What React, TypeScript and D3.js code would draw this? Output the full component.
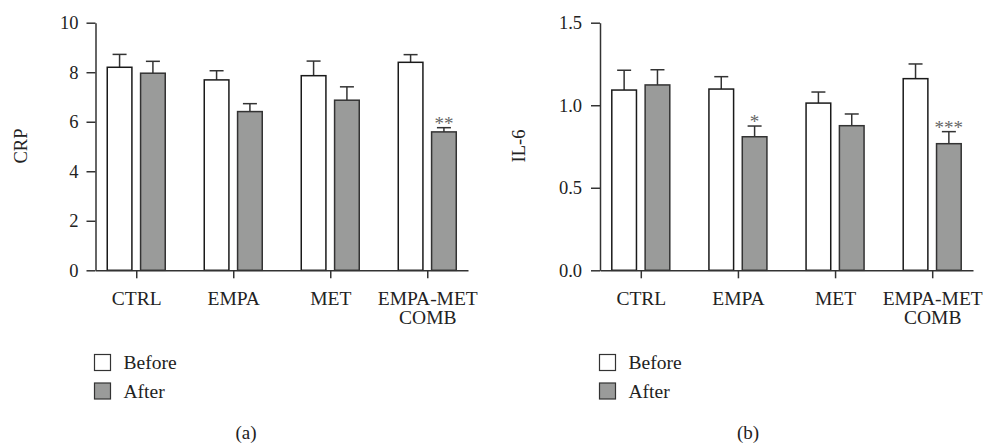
import * as d3 from "d3";
import React, { useRef, useEffect } from "react";

const WIDTH = 989;
const HEIGHT = 444;

const categories = ["CTRL", "EMPA", "MET", "EMPA-MET COMB"];
const groups = ["Before", "After"];

// panel (a) CRP
const crpBefore = [8.2, 7.69, 7.86, 8.4];
const crpBeforeErr = [0.52, 0.37, 0.59, 0.31];
const crpAfter = [7.96, 6.41, 6.87, 5.59];
const crpAfterErr = [0.48, 0.32, 0.54, 0.17];
const crpStars = ["", "", "", "**"];
const crpTicks = [0, 2, 4, 6, 8, 10];

// panel (b) IL-6
const il6Before = [1.092, 1.098, 1.013, 1.161];
const il6BeforeErr = [0.12, 0.075, 0.067, 0.089];
const il6After = [1.123, 0.809, 0.876, 0.767];
const il6AfterErr = [0.092, 0.065, 0.071, 0.073];
const il6Stars = ["", "*", "", "***"];
const il6Ticks = [0, 0.5, 1.0, 1.5];

const FONT = "'Liberation Serif', 'DejaVu Serif', serif";
const AFTER_FILL = "#9a9b9a";
const TEXT = "#222";

const panels = [
	{
		left: 95.5,
		right: 468,
		yLabel: "CRP",
		yLabelX: 21,
		before: crpBefore,
		beforeErr: crpBeforeErr,
		after: crpAfter,
		afterErr: crpAfterErr,
		stars: crpStars,
		ticks: crpTicks,
		fmt: d3.format("d"),
		pad: 8,
		legendX: 94.5,
		caption: "(a)",
		captionX: 246,
	},
	{
		left: 600,
		right: 973,
		yLabel: "IL-6",
		yLabelX: 519,
		before: il6Before,
		beforeErr: il6BeforeErr,
		after: il6After,
		afterErr: il6AfterErr,
		stars: il6Stars,
		ticks: il6Ticks,
		fmt: d3.format(".1f"),
		pad: 9,
		legendX: 599.5,
		caption: "(b)",
		captionX: 748,
	},
];

const App = () => {
	const svgRef = useRef(null);

	useEffect(() => {
		const svg = d3.select(svgRef.current);
		svg.selectAll("*").remove();

		const top = 22.7;
		const bottom = 270.3;

		panels.forEach((p) => {
			const g = svg.append("g");
			const yMax = p.ticks[p.ticks.length - 1];
			const y = d3.scaleLinear().domain([0, yMax]).range([bottom, top]);
			const x = d3.scalePoint().domain(categories).range([p.left, p.right]).padding(0.42);
			const inner = d3.scaleBand().domain(groups).range([-29, 29]).paddingInner(0.26);
			const bw = inner.bandwidth();

			const rows = categories.map((c, i) => [
				{ c, key: "Before", v: p.before[i], e: p.beforeErr[i], star: "" },
				{ c, key: "After", v: p.after[i], e: p.afterErr[i], star: p.stars[i] },
			]).flat();

			rows.forEach((d) => {
				const cx = x(d.c) + inner(d.key) + bw / 2;
				const stroke = d.key === "Before" ? "#1a1a1a" : "#333";
				// error bar, upper whisker only
				g.append("line")
					.attr("x1", cx).attr("x2", cx)
					.attr("y1", y(d.v)).attr("y2", y(d.v + d.e))
					.attr("stroke", "#333").attr("stroke-width", 1.5);
				g.append("line")
					.attr("x1", cx - 7).attr("x2", cx + 7)
					.attr("y1", y(d.v + d.e)).attr("y2", y(d.v + d.e))
					.attr("stroke", "#333").attr("stroke-width", 1.5);
				g.append("rect")
					.attr("x", x(d.c) + inner(d.key))
					.attr("y", y(d.v))
					.attr("width", bw)
					.attr("height", y(0) - y(d.v))
					.attr("fill", d.key === "Before" ? "#fff" : AFTER_FILL)
					.attr("stroke", stroke)
					.attr("stroke-width", 1.5);
				if (d.star) {
					g.append("text")
						.attr("x", cx)
						.attr("y", y(d.v + d.e) + 2)
						.attr("text-anchor", "middle")
						.attr("font-family", FONT)
						.attr("font-size", 19)
						.attr("fill", "#666")
						.text(d.star);
				}
			});

			const yAxis = g.append("g")
				.attr("transform", `translate(${p.left},0)`)
				.call(d3.axisLeft(y).tickValues(p.ticks).tickFormat(p.fmt).tickSize(9).tickSizeOuter(0).tickPadding(p.pad));

			const xAxis = g.append("g")
				.attr("transform", `translate(0,${bottom})`)
				.call(d3.axisBottom(x).tickSize(8).tickSizeOuter(0).tickPadding(12.5));

			[yAxis, xAxis].forEach((a) => {
				a.select(".domain").attr("stroke", "#333").attr("stroke-width", 1.5);
				a.selectAll(".tick line").attr("stroke", "#333").attr("stroke-width", 1.5);
				a.selectAll("text").attr("font-family", FONT).attr("fill", TEXT);
			});
			yAxis.selectAll("text").attr("font-size", 18.5);
			xAxis.selectAll("text").attr("font-size", 19.5);

			xAxis.selectAll(".tick text").each(function (d) {
				const t = d3.select(this);
				const parts = String(d).split(" ");
				t.text(null);
				parts.forEach((s, k) => {
					t.append("tspan").attr("x", 0).attr("dy", k === 0 ? "0.71em" : "1.0em").text(s);
				});
			});

			g.append("text")
				.attr("transform", `translate(${p.yLabelX},146) rotate(-90)`)
				.attr("text-anchor", "middle")
				.attr("dominant-baseline", "central")
				.attr("font-family", FONT)
				.attr("font-size", 18.5)
				.attr("fill", TEXT)
				.text(p.yLabel);

			// legend
			groups.forEach((k, i) => {
				const ly = 354.5 + i * 28.5;
				g.append("rect")
					.attr("x", p.legendX)
					.attr("y", ly)
					.attr("width", 16)
					.attr("height", 16)
					.attr("fill", k === "Before" ? "#fff" : AFTER_FILL)
					.attr("stroke", "#333")
					.attr("stroke-width", 1.2);
				g.append("text")
					.attr("x", p.legendX + 29)
					.attr("y", ly + 8)
					.attr("dominant-baseline", "central")
					.attr("font-family", FONT)
					.attr("font-size", 19.5)
					.attr("fill", TEXT)
					.text(k);
			});

			g.append("text")
				.attr("x", p.captionX)
				.attr("y", 432)
				.attr("text-anchor", "middle")
				.attr("dominant-baseline", "central")
				.attr("font-family", FONT)
				.attr("font-size", 19)
				.attr("fill", TEXT)
				.text(p.caption);
		});
	}, []);

	return <svg ref={svgRef} width={WIDTH} height={HEIGHT} viewBox={`0 0 ${WIDTH} ${HEIGHT}`} style={{ position: "absolute", left: 0, top: 0, background: "#fff" }} />;
};

export default App;
